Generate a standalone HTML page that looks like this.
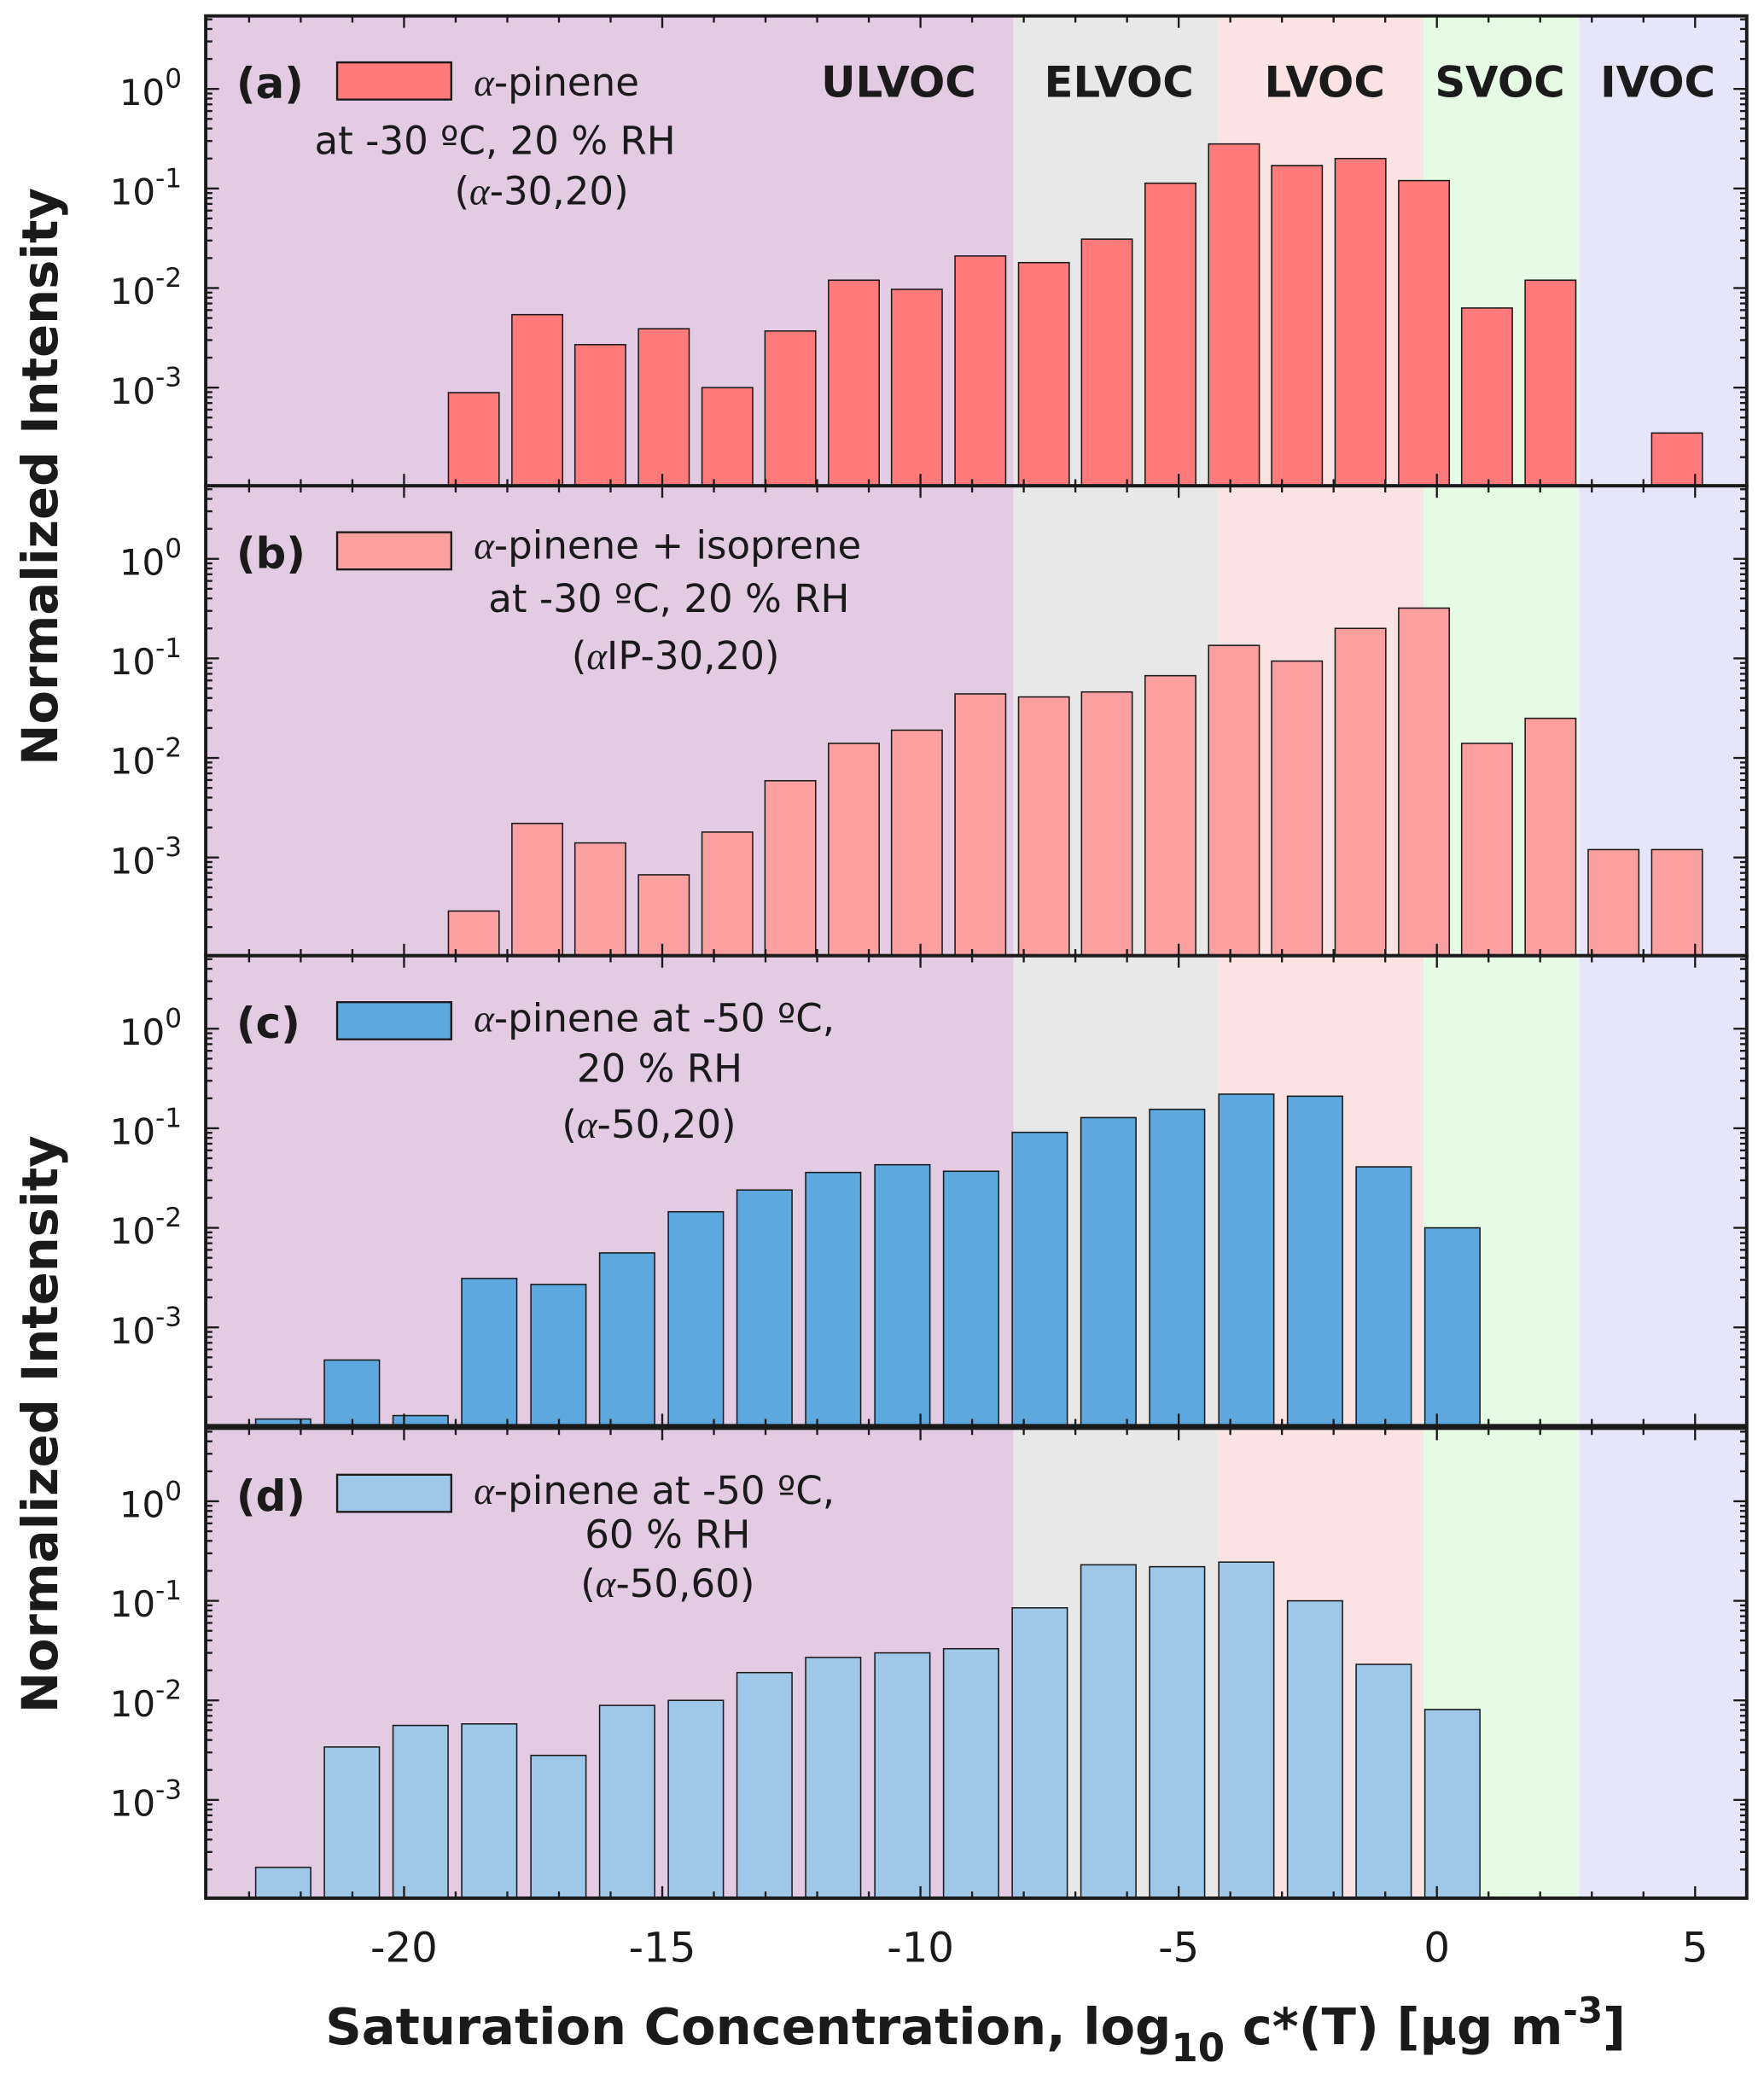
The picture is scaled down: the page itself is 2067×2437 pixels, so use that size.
<!DOCTYPE html>
<html><head><meta charset="utf-8"><style>
html,body{margin:0;padding:0;background:#fff;}
svg{display:block;}
text{font-family:"DejaVu Sans","Liberation Sans",sans-serif;fill:#1a1a1a;}
</style></head><body>
<svg id="fig" width="2067" height="2437" viewBox="0 0 1329 1567" preserveAspectRatio="none" xmlns="http://www.w3.org/2000/svg"></svg>
<script>
const regionNames = ["ULVOC","ELVOC","LVOC","SVOC","IVOC"];
const regionBounds = [-23.84, -8.2, -4.24, -0.26, 2.75, 6.0];
const regionColors = ["#e4cbe4","#e8e8e8","#fbe3e3","#e6fbe4","#e6e5fa"];
const binsA = [-18.65,-17.42,-16.2,-14.97,-13.74,-12.52,-11.29,-10.07,-8.84,-7.61,-6.39,-5.16,-3.93,-2.71,-1.48,-0.25,0.97,2.2,3.42,4.65];
const binsC = [-22.34,-21.01,-19.68,-18.35,-17.01,-15.68,-14.35,-13.02,-11.69,-10.35,-9.02,-7.69,-6.36,-5.03,-3.69,-2.36,-1.03,0.3];
const valsA = [8.9e-4,5.4e-3,2.7e-3,3.9e-3,1.0e-3,3.7e-3,1.2e-2,9.7e-3,2.1e-2,1.8e-2,3.1e-2,0.113,0.28,0.17,0.20,0.12,6.3e-3,1.2e-2,null,3.5e-4];
const valsB = [2.9e-4,2.2e-3,1.4e-3,6.7e-4,1.8e-3,5.9e-3,1.4e-2,1.9e-2,4.4e-2,4.1e-2,4.6e-2,6.7e-2,0.135,0.094,0.20,0.32,1.4e-2,2.5e-2,1.2e-3,1.2e-3];
const valsC = [1.2e-4,4.7e-4,1.3e-4,3.1e-3,2.7e-3,5.6e-3,1.45e-2,2.4e-2,3.6e-2,4.3e-2,3.7e-2,0.091,0.128,0.155,0.22,0.21,4.1e-2,1.0e-2];
const valsD = [2.1e-4,3.4e-3,5.6e-3,5.8e-3,2.8e-3,8.9e-3,1.0e-2,1.9e-2,2.7e-2,3.0e-2,3.3e-2,0.085,0.23,0.22,0.245,0.10,2.3e-2,8.1e-3];
const xTicks = [-20,-15,-10,-5,0,5];
const yTickExps = [0,-1,-2,-3];

const NS="http://www.w3.org/2000/svg";
const svg=document.getElementById('fig');
const L=155,R=1316,XMIN=-23.84,XMAX=6.0;
const xs=v=>L+(v-XMIN)/(XMAX-XMIN)*(R-L);
const PH=354;
function mk(tag,attrs,parent){const e=document.createElementNS(NS,tag);for(const k in attrs)e.setAttribute(k,attrs[k]);(parent||svg).appendChild(e);return e;}

const panels=[
 {top:12,bins:binsA,vals:valsA,spacing:1.2265,color:"#ff7a7a",tag:"(a)",name:"panel-a",lines:[["α","-pinene"],["at -30 ºC, 20 % RH"],["(","α","-30,20)"]],lx:[357,373,408],ly:[72,116,154]},
 {top:366,bins:binsA,vals:valsB,spacing:1.2265,color:"#fba0a0",tag:"(b)",name:"panel-b",lines:[["α","-pinene + isoprene"],["at -30 ºC, 20 % RH"],["(","α","IP-30,20)"]],lx:[357,504,509],ly:[421,461,504]},
 {top:720,bins:binsC,vals:valsC,spacing:1.3325,color:"#5da8de",tag:"(c)",name:"panel-c",lines:[["α","-pinene at -50 ºC,"],["20 % RH"],["(","α","-50,20)"]],lx:[357,497,489],ly:[777,815,857]},
 {top:1076,bins:binsC,vals:valsD,spacing:1.3325,color:"#9fc8e8",tag:"(d)",name:"panel-d",lines:[["α","-pinene at -50 ºC,"],["60 % RH"],["(","α","-50,60)"]],lx:[357,503,503],ly:[1133,1166,1203]}
];

panels.forEach((p,pi)=>{
  const g=mk('g',{});
  
  
  const y0=p.top+55;
  const ys=v=>y0-Math.log10(v)*75;
  const B=p.top+PH;
  regionNames.forEach((n,i)=>{
    const r=mk('rect',{x:xs(regionBounds[i]),y:p.top,width:xs(regionBounds[i+1])-xs(regionBounds[i]),height:PH,fill:regionColors[i]},g);
    
    
  });
  p.bins.forEach((c,i)=>{
    const v=p.vals[i]; if(v==null) return;
    const w=p.spacing*0.8;
    const yt=ys(v);
    const r=mk('rect',{x:xs(c-w/2),y:yt,width:xs(c+w/2)-xs(c-w/2),height:B-yt,fill:p.color,stroke:"#1a1a1a","stroke-width":1},g);
    
    
  });
  for(let t=-23;t<=6;t++){
    const len=(t%5===0)?9:5;
    mk('line',{x1:xs(t),x2:xs(t),y1:B,y2:B-len,stroke:"#1a1a1a","stroke-width":1.5},g);
    mk('line',{x1:xs(t),x2:xs(t),y1:p.top,y2:p.top+len,stroke:"#1a1a1a","stroke-width":1.5},g);
  }
  for(let e=-4;e<=0;e++){
    for(let m=1;m<10;m++){
      const v=m*Math.pow(10,e); const y=ys(v);
      if(y<p.top||y>B) continue;
      const len=m===1?10:5;
      mk('line',{x1:L,x2:L+len,y1:y,y2:y,stroke:"#1a1a1a","stroke-width":1.5},g);
      mk('line',{x1:R,x2:R-len,y1:y,y2:y,stroke:"#1a1a1a","stroke-width":1.5},g);
    }
  }
  yTickExps.forEach(e=>{
    const t=mk('text',{x:137,y:ys(Math.pow(10,e))+12,"font-size":27,"text-anchor":"end"},g);
    
    
    t.innerHTML='10<tspan dy="-13" font-size="20">'+e+'</tspan>';
  });
  mk('rect',{x:L,y:p.top,width:R-L,height:PH,fill:"none",stroke:"#1a1a1a","stroke-width":2.5},g);
  const tg=mk('text',{x:178,y:p.top+62,"font-size":32,"font-weight":"bold"},g);
  tg.textContent=p.tag;
  
  
  const sw=mk('rect',{x:254,y:p.top+35,width:86,height:28,fill:p.color,stroke:"#1a1a1a","stroke-width":1.5},g);
  
  
  p.lines.forEach((ln,li)=>{
    const t=mk('text',{x:p.lx[li],y:p.ly[li],"font-size":29,"text-anchor":li===0?"start":"middle"},g);
    
    
    t.innerHTML=ln.map(s=>s==='α'?'<tspan font-family="Liberation Serif, serif" font-style="italic">α</tspan>':s).join('');
  });
  if(pi===0){
    const cx=[677,843,998,1130,1249];
    regionNames.forEach((n,i)=>{
      const t=mk('text',{x:cx[i],y:73,"font-size":32,"font-weight":"bold","text-anchor":"middle"},g);
      t.textContent=n;
      
      
    });
  }
});
xTicks.forEach(t=>{
  const e=mk('text',{x:xs(t),y:1478,"font-size":31,"text-anchor":"middle"});
  e.textContent=t;
  
  
});
const xt=mk('text',{x:735,y:1540,"font-size":38,"font-weight":"bold","text-anchor":"middle"});
xt.innerHTML='Saturation Concentration, log<tspan dy="13" font-size="29">10</tspan><tspan dy="-13"> c*(T) [µg m</tspan><tspan dy="-16" font-size="27">-3</tspan><tspan dy="16">]</tspan>';


[359,1073].forEach(cy=>{
  const t=mk('text',{x:0,y:0,"font-size":37,"font-weight":"bold","text-anchor":"middle",transform:`translate(43,${cy}) rotate(-90)`});
  t.textContent='Normalized Intensity';
  
  
});
</script>
</body></html>
